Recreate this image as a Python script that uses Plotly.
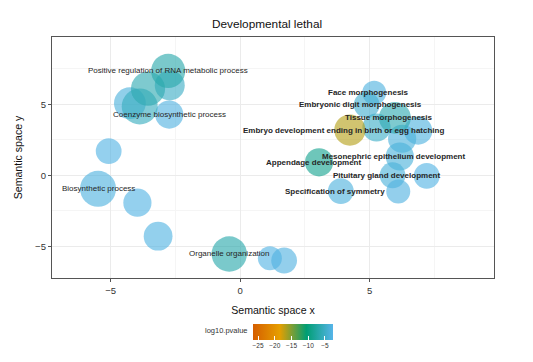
import plotly.graph_objects as go

# ---- data ----
plot_x = [-2.72, -4.26, -2.74, -5.08, -5.49, -3.97, -3.17, 1.15, 1.70,
          -3.88, -3.56, -2.78, -0.42,
          5.18, 4.89, 5.27, 6.88, 6.26, 6.17, 5.89, 7.21, 6.11, 3.89,
          5.98, 3.05, 4.24]
plot_y = [6.32, 5.07, 4.27, 1.70, -0.95, -1.93, -4.29, -5.84, -6.00,
          4.84, 6.09, 7.34, -5.54,
          5.81, 4.96, 3.36, 3.14, 2.57, 1.32, 0.00, -0.05, -1.14, -1.11,
          4.04, 0.91, 3.18]
log10_pvalue = [-5.0, -3.5, -3.2, -3.0, -3.3, -3.0, -3.1, -3.0, -3.2,
                -5.5, -6.3, -6.8, -6.8,
                -3.3, -4.3, -4.8, -3.3, -3.5, -3.6, -3.6, -3.0, -3.2, -3.4,
                -6.3, -8.6, -16.8]
log_size = [2.0, 2.3, 1.7, 1.3, 3.0, 1.7, 1.8, 1.0, 1.3,
            3.0, 2.7, 2.7, 2.9,
            1.0, 1.3, 1.7, 1.7, 1.7, 1.7, 1.3, 1.3, 1.0, 1.3,
            2.3, 1.7, 2.2]
labels = ["", "", "Coenzyme biosynthetic process", "", "Biosynthetic process", "", "", "", "",
          "", "", "Positive regulation of RNA metabolic process", "Organelle organization",
          "Face morphogenesis", "Embryonic digit morphogenesis", "", "", "",
          "Mesonephric epithelium development", "Pituitary gland development", "", "",
          "Specification of symmetry",
          "Tissue morphogenesis", "Appendage development",
          "Embryo development ending in birth or egg hatching"]
bold_label = [False] * 13 + [True] * 13

colorbar_ticks = [-25, -20, -15, -10, -5]
c_limits = [-26.5, -2.6]
x_ticks = [-5, 0, 5]
y_ticks = [-5, 0, 5]

# ---- styling ----
colorscale = [[0.0, "#D55E00"], [0.333, "#E69F00"], [0.667, "#009E73"], [1.0, "#56B4E9"]]
diam = [24 + (s - 1.0) * 6 for s in log_size]
FONT = "Liberation Sans, Arial, sans-serif"
OFF_X = 8  # page offset
OFF_Y = 4

fig = go.Figure()
fig.add_trace(go.Scatter(
    x=plot_x, y=plot_y, mode="markers",
    marker=dict(size=diam, sizemode="diameter", color=log10_pvalue,
                colorscale=colorscale, cmin=c_limits[0], cmax=c_limits[1],
                opacity=0.62, line=dict(width=0),
                colorbar=dict(orientation="h", x=(253 - 52) / 442, xanchor="left",
                              y=-(330 - 282) / 249, yanchor="top", len=80, lenmode="pixels",
                              thickness=16, outlinewidth=0, xpad=0, ypad=0,
                              tickvals=colorbar_ticks, ticks="inside", tickangle=0,
                              tickcolor="white", ticklen=4,
                              tickfont=dict(size=6.5, color="#333", family=FONT))),
    hoverinfo="skip", showlegend=False))

for x, y, t, b in zip(plot_x, plot_y, labels, bold_label):
    if not t:
        continue
    fig.add_annotation(x=x, y=y, text=("<b>%s</b>" % t) if b else t, showarrow=False,
                       xanchor="center", yanchor="middle", xshift=-6 if b else 0,
                       font=dict(size=8, color="#262626", family=FONT))

fig.add_annotation(text="log10.pvalue", xref="paper", yref="paper",
                   x=(250 - 52) / 442, y=-(336 - 282) / 249, xanchor="right", yanchor="middle",
                   showarrow=False, font=dict(size=7.5, color="#333", family=FONT))

axis_common = dict(showline=True, linecolor="#555", linewidth=1.3, mirror=True,
                   ticks="outside", ticklen=3, tickcolor="#555",
                   gridcolor="#EBEBEB", gridwidth=1, zeroline=False, automargin=False,
                   minor=dict(showgrid=True, gridcolor="#F5F5F5", gridwidth=0.8, dtick=2.5),
                   tickfont=dict(size=9.5, color="#333", family=FONT))
fig.update_xaxes(range=[-7.27, 9.81], tickvals=x_ticks,
                 title=dict(text="Semantic space x", font=dict(size=10.6, color="#111", family=FONT),
                            standoff=12), **axis_common)
fig.update_yaxes(range=[-7.23, 9.73], tickvals=y_ticks,
                 title=dict(text="Semantic space y", font=dict(size=10.6, color="#111", family=FONT),
                            standoff=10), **axis_common)
fig.update_layout(
    width=533 - OFF_X, height=362 - OFF_Y,
    margin=dict(l=52 - OFF_X, r=39, t=33 - OFF_Y, b=362 - OFF_Y - (33 - OFF_Y) - 249),
    plot_bgcolor="white", paper_bgcolor="white",
    title=dict(text="Developmental lethal", x=(267 - OFF_X) / (533 - OFF_X), xanchor="center",
               y=1 - (20 - OFF_Y) / (362 - OFF_Y), yanchor="middle",
               font=dict(size=11.8, color="#111", family=FONT)),
)
fig.write_html("out.html")
